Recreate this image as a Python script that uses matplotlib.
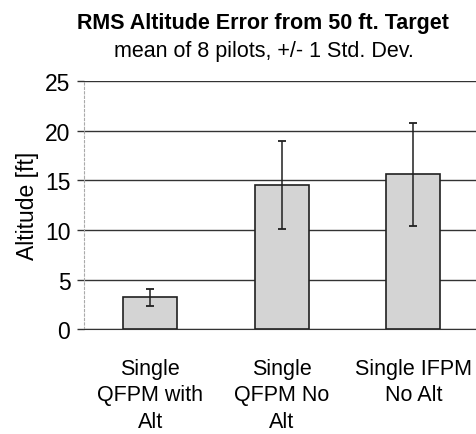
import matplotlib.pyplot as plt

plt.rcParams['font.family'] = ['Liberation Sans', 'DejaVu Sans']

categories = ['Single\nQFPM with\nAlt', 'Single\nQFPM No\nAlt', 'Single IFPM\nNo Alt']
mean_error = [3.2, 14.5, 15.6]
std_dev = [0.85, 4.45, 5.2]

fig = plt.figure(figsize=(4.76, 4.35), dpi=100)
ax = fig.add_axes([0.177, 0.241, 0.83, 0.570])

x = range(len(categories))
ax.bar(x, mean_error, width=0.41, color='#d4d4d4', edgecolor='#202020', linewidth=1.2, zorder=3)
ax.errorbar(x, mean_error, yerr=std_dev, fmt='none', ecolor='#202020', elinewidth=1.1,
            capsize=3, capthick=1.3, zorder=4)

ax.set_xlim(-0.5, 2.5)
ax.set_ylim(0, 25)
ax.set_yticks([0, 5, 10, 15, 20, 25])
ax.yaxis.grid(True, color='#333333', linewidth=1.0, zorder=0)
ax.set_axisbelow(True)

for side in ['top', 'right']:
    ax.spines[side].set_visible(False)
ax.spines['bottom'].set_color('#333333')
ax.spines['left'].set_color('#aaaaaa')
ax.spines['left'].set_linestyle((0, (2, 2)))
ax.spines['left'].set_linewidth(0.8)

ax.tick_params(axis='y', length=5, width=1.0, color='#333333', labelsize=16.5, pad=5)
ax.tick_params(axis='x', length=0, labelsize=15.5, pad=21)
ax.set_xticks(list(x))
ax.set_xticklabels(categories, linespacing=1.32)
ax.set_ylabel('Altitude [ft]', fontsize=16.5, labelpad=4)

fig.text(0.553, 0.946, 'RMS Altitude Error from 50 ft. Target', ha='center', va='center',
         fontsize=15.5, fontweight='bold')
fig.text(0.555, 0.882, 'mean of 8 pilots, +/- 1 Std. Dev.', ha='center', va='center', fontsize=15.5)

fig.savefig('out.png', dpi=100)
